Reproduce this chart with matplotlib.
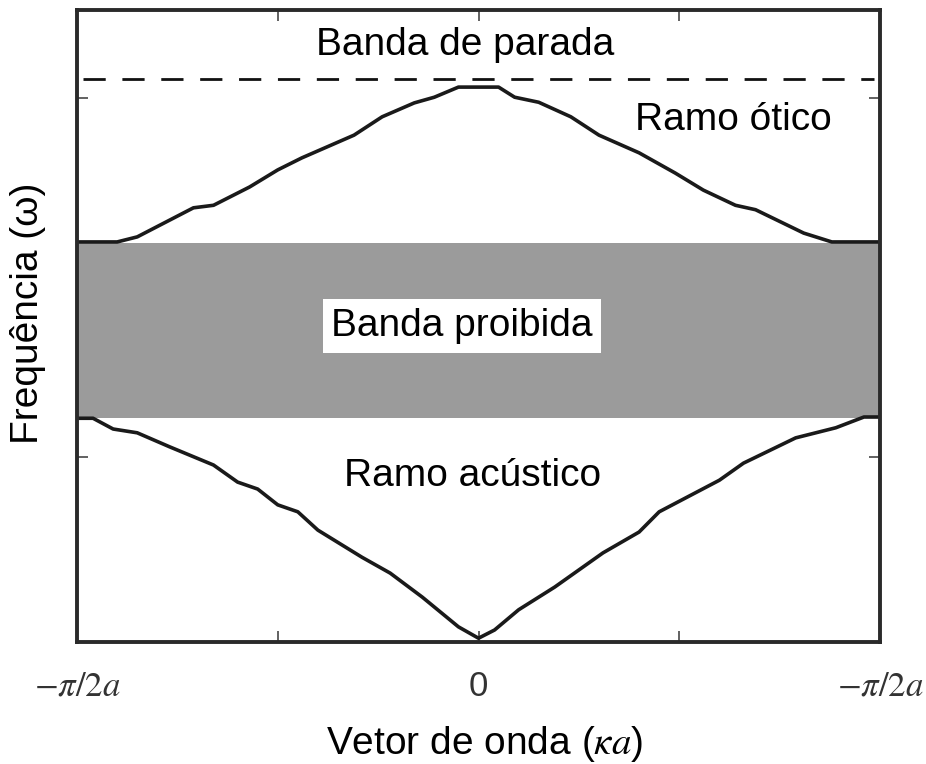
import matplotlib
matplotlib.use("Agg")
import matplotlib.pyplot as plt

# normalised wave vector (-1 .. 1) and frequency (0 .. 1)
optic_x = [-1.0, -0.90, -0.85, -0.71, -0.66, -0.57, -0.50, -0.44, -0.31, -0.24,
           -0.16, -0.11, -0.05, 0.05, 0.09, 0.15, 0.23, 0.30, 0.40, 0.49,
           0.56, 0.64, 0.69, 0.81, 0.88, 1.0]
optic_y = [0.633, 0.633, 0.641, 0.687, 0.691, 0.720, 0.747, 0.766, 0.802, 0.831,
           0.853, 0.862, 0.878, 0.878, 0.862, 0.854, 0.831, 0.802, 0.774, 0.742,
           0.715, 0.691, 0.684, 0.647, 0.633, 0.633]

acoustic_x = [-1.0, -0.96, -0.91, -0.85, -0.77, -0.66, -0.60, -0.55, -0.50, -0.45,
              -0.40, -0.29, -0.22, -0.14, -0.05, 0.0, 0.04, 0.10, 0.19, 0.31,
              0.40, 0.45, 0.60, 0.66, 0.79, 0.89, 0.96, 1.0]
acoustic_y = [0.354, 0.354, 0.337, 0.331, 0.309, 0.280, 0.253, 0.242, 0.217, 0.206,
              0.177, 0.134, 0.109, 0.071, 0.024, 0.006, 0.019, 0.051, 0.087, 0.141,
              0.174, 0.206, 0.256, 0.283, 0.323, 0.339, 0.356, 0.356]

gap_lo, gap_hi = 0.354, 0.631
stop_band = 0.891

xticks = [-1.0, -0.5, 0.0, 0.5, 1.0]
xticklabels = [r"$-\pi/2a$", "", "0", "", r"$-\pi/2a$"]
yticks = [0.293, 0.861]

plt.rcParams["font.family"] = ["Liberation Sans", "DejaVu Sans"]
plt.rcParams["mathtext.fontset"] = "stix"

fig = plt.figure(figsize=(9.26, 7.64), dpi=100)
ax = fig.add_axes([77/926, 122/764, 803/926, 632/764])

ax.axhspan(gap_lo, gap_hi, color="#9b9b9b", lw=0)
ax.plot(optic_x, optic_y, color="#1a1a1a", lw=2.6, solid_joinstyle="round")
ax.plot(acoustic_x, acoustic_y, color="#1a1a1a", lw=2.6, solid_joinstyle="round")
ax.hlines(stop_band, -0.985, 0.985, colors="#111111", lw=2, linestyles=(0, (8, 6)))

ax.set_xlim(-1, 1)
ax.set_ylim(0, 1)
ax.set_xticks(xticks)
ax.set_xticklabels(xticklabels, fontsize=25, color="#333333")
ax.set_yticks(yticks)
ax.set_yticklabels([])
ax.tick_params(direction="in", length=8, width=1.3, color="#555555",
               top=True, right=True, pad=20)
for s in ax.spines.values():
    s.set_linewidth(2.8)
    s.set_color("#2a2a2a")

fs = 28
ax.text(-0.034, 0.945, "Banda de parada", fontsize=fs, ha="center", va="center")
ax.text(0.634, 0.826, "Ramo ótico", fontsize=fs, ha="center", va="center")
ax.text(-0.041, 0.50, "Banda proibida", fontsize=fs, ha="center", va="center",
        bbox=dict(facecolor="white", edgecolor="none", boxstyle="square,pad=0.22"))
ax.text(-0.016, 0.263, "Ramo acústico", fontsize=fs, ha="center", va="center")

fig.text(28/926, 451/764, "Frequência (ω)", fontsize=fs, rotation=90,
         ha="center", va="center")
fig.text(485/926, 20/764, r"Vetor de onda ($\kappa a$)", fontsize=fs,
         ha="center", va="center")

fig.savefig("out.png", dpi=100)
